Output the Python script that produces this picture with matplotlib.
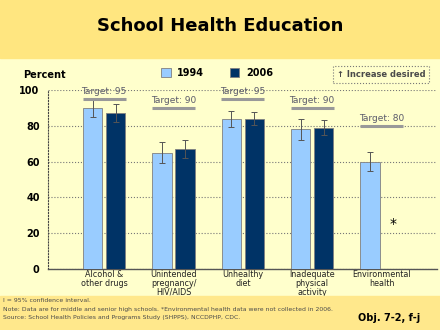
import matplotlib
matplotlib.use("Agg")
import matplotlib.pyplot as plt
from matplotlib.patches import Rectangle
import numpy as np

categories = ["Alcohol &\nother drugs", "Unintended\npregnancy/\nHIV/AIDS", "Unhealthy\ndiet",
              "Inadequate\nphysical\nactivity", "Environmental\nhealth"]
vals1994 = [90, 65, 84, 78, 60]
err1994 = [5, 6, 4.5, 6, 5.5]
vals2006 = [87, 67, 84, 79, None]
err2006 = [5, 5, 3.5, 4, None]
targets = [95, 90, 95, 90, 80]

light = "#99CCFF"
dark = "#003366"
txtgray = "#4a4a4a"

fig = plt.figure(figsize=(4.4, 3.3), dpi=100)
fig.patch.set_facecolor("#FFFFCC")
fig.patches.append(Rectangle((0, 272/330), 1, 58/330, transform=fig.transFigure, color="#FFE680", zorder=0))
fig.patches.append(Rectangle((0, 0), 1, 34/330, transform=fig.transFigure, color="#FFE88C", zorder=0))

ax = fig.add_axes([48/440, 61/330, 389/440, 179/330])
ax.set_facecolor("#FFFFCC")

x = np.arange(len(categories))
w = 0.28
off = 0.165
for i in range(len(categories)):
    ax.bar(x[i] - off, vals1994[i], w, color=light, edgecolor="#808080", linewidth=0.6, zorder=3,
           label="1994" if i == 0 else None)
    ax.errorbar(x[i] - off, vals1994[i], yerr=err1994[i], fmt="none", ecolor="#555555",
                elinewidth=0.7, capsize=2, capthick=0.7, zorder=4)
    if vals2006[i] is not None:
        ax.bar(x[i] + off, vals2006[i], w, color=dark, edgecolor="#808080", linewidth=0.6, zorder=3,
               label="2006" if i == 0 else None)
        ax.errorbar(x[i] + off, vals2006[i], yerr=err2006[i], fmt="none", ecolor="#555555",
                    elinewidth=0.7, capsize=2, capthick=0.7, zorder=4)
    else:
        ax.text(x[i] + off, 25, "*", ha="center", va="center", fontsize=10, color="black")
    # target line + label
    ax.plot([x[i] - 0.31, x[i] + 0.31], [targets[i], targets[i]], color="#999999", lw=2.2,
            solid_capstyle="butt", zorder=5, clip_on=False)
    ax.annotate("Target: " + str(targets[i]), (x[i], targets[i]), xytext=(0, 2),
                textcoords="offset points", ha="center", va="bottom", fontsize=6.5,
                color="#5a5a6a", annotation_clip=False)

ax.set_xlim(-0.81, 4.8)
ax.set_ylim(0, 100)
ax.set_yticks([0, 20, 40, 60, 80, 100])
ax.set_yticklabels(["0", "20", "40", "60", "80", "100"], fontsize=7, fontweight="bold")
ax.set_xticks(x)
ax.set_xticklabels(categories, fontsize=5.8, color="#222222", linespacing=0.95)
ax.tick_params(axis="x", length=0, pad=1)
ax.tick_params(axis="y", length=0, pad=6)
ax.grid(axis="y", linestyle=":", color="#777777", linewidth=0.8, zorder=0)
ax.spines["top"].set_visible(False)
ax.spines["right"].set_visible(False)
ax.spines["left"].set_linestyle(":")
ax.spines["left"].set_color("#444444")
ax.spines["bottom"].set_color("#555555")
ax.spines["bottom"].set_linewidth(1.0)

fig.text(220/440, 1 - 26/330, "School Health Education", ha="center", va="center",
         fontsize=13, fontweight="bold")
fig.text(23/440, 1 - 75/330, "Percent", ha="left", va="center", fontsize=7, fontweight="bold")

leg = fig.legend(loc="center", bbox_to_anchor=(217/440, 1 - 73/330), ncol=2, frameon=False,
                 fontsize=7, handlelength=1.0, handleheight=1.0, columnspacing=2.6, handletextpad=0.7)
for t in leg.get_texts():
    t.set_fontweight("bold")

fig.text(381/440, 1 - 74.5/330, "\u2191 Increase desired", ha="center", va="center", fontsize=6,
         color=txtgray, fontweight="bold",
         bbox=dict(boxstyle="square,pad=0.5", facecolor="none", edgecolor="#777777", linestyle=":", linewidth=0.8))

fig.text(3/440, 1 - 300/330, "I = 95% confidence interval.", ha="left", va="center", fontsize=4.4, color=txtgray)
fig.text(3/440, 1 - 310/330, "Note: Data are for middle and senior high schools. *Environmental health data were not collected in 2006.",
         ha="left", va="center", fontsize=4.4, color=txtgray)
fig.text(3/440, 1 - 317.5/330, "Source: School Health Policies and Programs Study (SHPPS), NCCDPHP, CDC.",
         ha="left", va="center", fontsize=4.4, color=txtgray)
fig.text(420/440, 1 - 318/330, "Obj. 7-2, f-j", ha="right", va="center", fontsize=7, fontweight="bold")

fig.savefig("out.png", dpi=100, facecolor=fig.get_facecolor())
